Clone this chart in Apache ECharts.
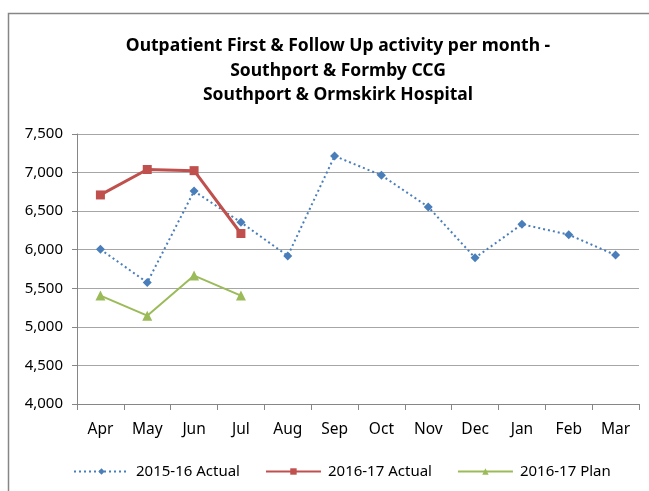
<!DOCTYPE html>
<html>
<head>
<meta charset="utf-8">
<script src="https://cdn.jsdelivr.net/npm/echarts@6/dist/echarts.min.js"></script>
<style>
  html, body { margin: 0; padding: 0; background: #fff; }
  #chart { width: 649px; height: 491px; }
</style>
</head>
<body>
<div id="chart"></div>
<script>
// months and values
var months = ['Apr', 'May', 'Jun', 'Jul', 'Aug', 'Sep', 'Oct', 'Nov', 'Dec', 'Jan', 'Feb', 'Mar'];
var actual1516 = [6005, 5575, 6760, 6355, 5920, 7215, 6965, 6555, 5895, 6330, 6195, 5930];
var actual1617 = [6710, 7040, 7025, 6210];
var plan1617 = [5405, 5145, 5665, 5405];

var font = '"Noto Sans", "Open Sans", sans-serif';
var myChart = echarts.init(document.getElementById('chart'));

myChart.setOption({
    animation: false,
    textStyle: { fontFamily: font },
    title: {
        text: 'Outpatient First & Follow Up activity per month -\nSouthport & Formby CCG\nSouthport & Ormskirk Hospital',
        left: 333,
        textAlign: 'center',
        top: 29,
        textStyle: { fontSize: 17.5, fontWeight: 'bold', color: '#000', lineHeight: 24.5, fontFamily: font }
    },
    graphic: [{
        type: 'polyline',
        shape: { points: [[8.5, 491], [8.5, 13.5], [649, 13.5]] },
        style: { stroke: '#868686', lineWidth: 1.5, fill: null },
        silent: true
    }],
    grid: { left: 77, right: 10, top: 134, bottom: 87 },
    xAxis: {
        type: 'category',
        data: months,
        boundaryGap: true,
        axisLine: { lineStyle: { color: '#868686', width: 1 } },
        axisTick: { show: true, length: 6, lineStyle: { color: '#868686' } },
        axisLabel: { color: '#000', fontSize: 15.5, margin: 18, fontFamily: font }
    },
    yAxis: {
        type: 'value',
        min: 4000,
        max: 7500,
        interval: 500,
        axisLine: { show: true, lineStyle: { color: '#868686' } },
        axisTick: { show: true, length: 5, lineStyle: { color: '#868686' } },
        splitLine: { lineStyle: { color: '#a6a6a6', width: 1 } },
        axisLabel: {
            color: '#000', fontSize: 15, margin: 14, fontFamily: font,
            formatter: function (v) { return v.toLocaleString('en-US'); }
        }
    },
    legend: {
        top: 459,
        left: 68,
        itemWidth: 55,
        itemHeight: 8,
        itemGap: 25,
        textStyle: { fontSize: 15, color: '#000', fontFamily: font, padding: [0, 0, 0, 2] },
        data: ['2015-16 Actual', '2016-17 Actual', '2016-17 Plan']
    },
    series: [{
        name: '2015-16 Actual',
        type: 'line',
        data: actual1516,
        symbol: 'diamond',
        symbolSize: 9,
        itemStyle: { color: '#4a7ebb' },
        lineStyle: { color: '#4a7ebb', width: 2, type: [2, 3] }
    }, {
        name: '2016-17 Actual',
        type: 'line',
        data: actual1617,
        symbol: 'rect',
        symbolSize: 9,
        itemStyle: { color: '#c0504d' },
        lineStyle: { color: '#c0504d', width: 3 }
    }, {
        name: '2016-17 Plan',
        type: 'line',
        data: plan1617,
        symbol: 'triangle',
        symbolSize: 10,
        itemStyle: { color: '#9bbb59' },
        lineStyle: { color: '#9bbb59', width: 2 }
    }]
});
</script>
</body>
</html>
